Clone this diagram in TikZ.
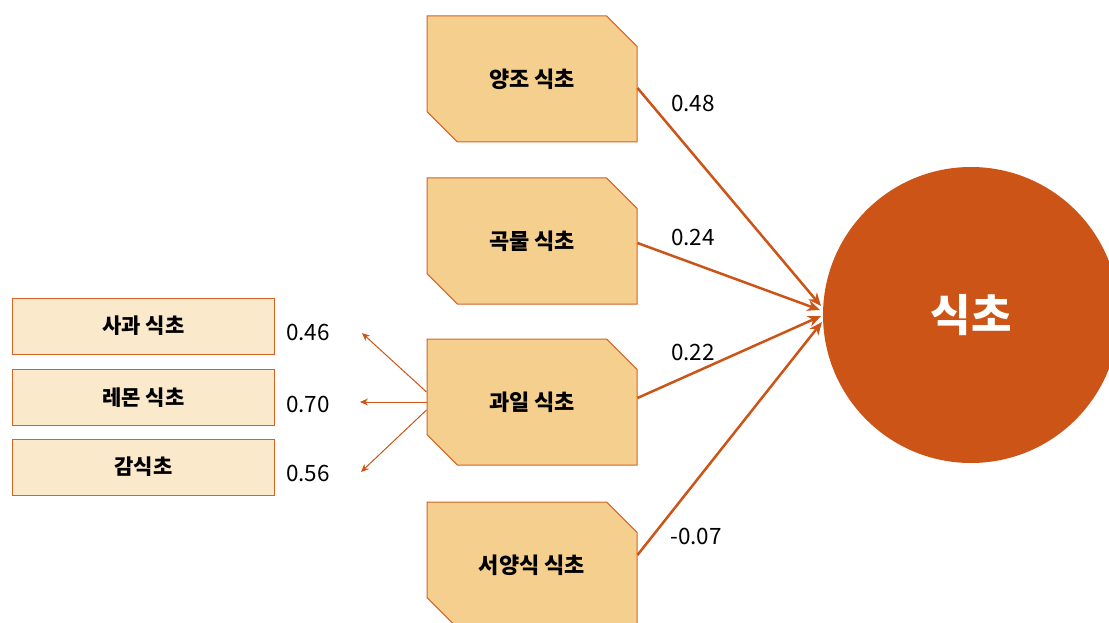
\documentclass[tikz,border=0pt]{standalone}
\usepackage{fontspec}
\setmainfont{Noto Sans CJK KR}
\usetikzlibrary{shapes.misc,arrows.meta,calc}

\definecolor{rust}{RGB}{204,84,22}
\definecolor{wheat}{RGB}{245,207,141}
\definecolor{cream}{RGB}{251,233,203}
\definecolor{edge}{RGB}{214,98,38}

\begin{document}
\begin{tikzpicture}[x=1pt,y=-1pt,
		vinegar/.style={chamfered rectangle, chamfered rectangle corners={north east,south west},
			chamfered rectangle xsep=20pt, chamfered rectangle ysep=20pt,
			draw=edge, line width=1pt, fill=wheat, minimum width=210pt, minimum height=126pt,
			inner sep=0pt, font=\fontsize{22}{26}\selectfont\bfseries},
		fruit/.style={rectangle, draw=edge, line width=1pt, fill=cream, minimum width=262pt,
			minimum height=56pt, inner sep=0pt, font=\fontsize{21}{25}\selectfont\bfseries},
		coef/.style={inner sep=0pt, font=\fontsize{22.5}{26}\selectfont},
		effect/.style={draw=rust, line width=2.5pt, -{Stealth[length=13pt,width=11pt]}},
		loading/.style={draw=rust, line width=1pt, -{Stealth[length=8pt,width=7pt]}}]
		
		\clip (0,0) rectangle (1109,623);
		
		% target
		\node[circle, fill=rust, minimum size=296pt, inner sep=0pt, text=white,
		font=\fontsize{44}{50}\selectfont\bfseries] (goal) at (971,315) {식초};
		
		% kinds of vinegar
		\node[vinegar] (B1) at (532,79) {양조 식초};
		\node[vinegar] (B2) at (532,241) {곡물 식초};
		\node[vinegar] (B3) at (532,402) {과일 식초};
		\node[vinegar] (B4) at (532,565) {서양식 식초};
		
		% fruit vinegars
		\node[fruit] (F1) at (143.5,326) {사과 식초};
		\node[fruit] (F2) at (143.5,397.5) {레몬 식초};
		\node[fruit] (F3) at (143.5,467) {감식초};
		
		\coordinate (t1) at (362,333);
		\coordinate (t2) at (360,402);
		\coordinate (t3) at (361,472);
		
		\draw[effect] ($(B1.east)+(0,9)$) -- (821,306);
		\draw[effect] ($(B2.east)+(0,2)$) -- (820,310);
		\draw[effect] ($(B3.east)+(0,-4)$) -- (821,316);
		\draw[effect] ($(B4.east)+(0,-10)$) -- (822,322);
		
		\draw[loading] ($(B3.west)+(0,-10)$) -- (t1);
		\draw[loading] (B3.west) -- (t2);
		\draw[loading] ($(B3.west)+(0,8)$) -- (t3);
		
		% coefficients
		\node[coef] (c1) at (693,103) {0.48};
		\node[coef] (c2) at (693,237) {0.24};
		\node[coef] (c3) at (693,352) {0.22};
		\node[coef] (c4) at (696,536) {-0.07};
		\node[coef] (c5) at (308,332) {0.46};
		\node[coef] (c6) at (308,404) {0.70};
		\node[coef] (c7) at (308,473) {0.56};
	\end{tikzpicture}
\end{document}
